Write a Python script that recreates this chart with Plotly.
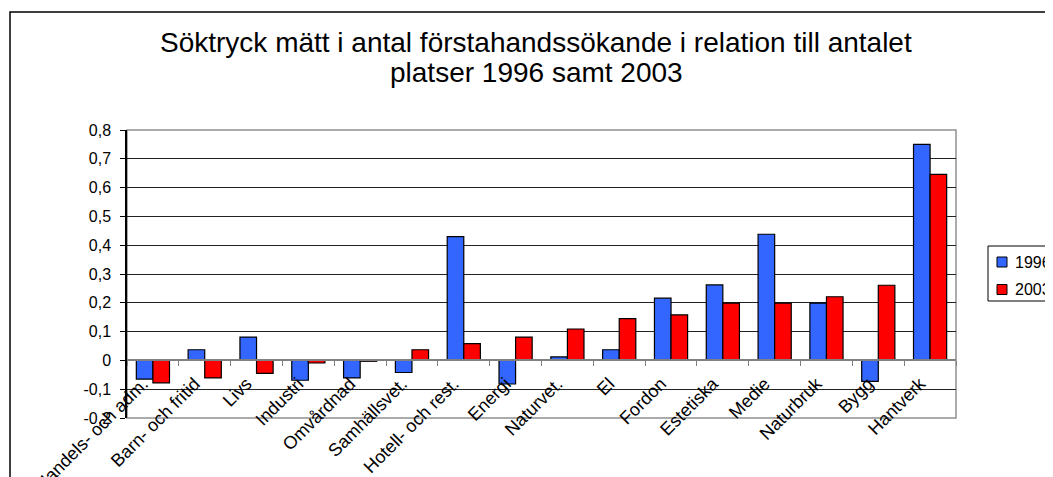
import plotly.graph_objects as go

# program areas (x categories)
kategorier = ['Handels- och adm.', 'Barn- och fritid', 'Livs', 'Industri', 'Omvårdnad',
	'Samhällsvet.', 'Hotell- och rest.', 'Energi', 'Naturvet.', 'El', 'Fordon',
	'Estetiska', 'Medie', 'Naturbruk', 'Bygg', 'Hantverk']

# values
v1996 = [-0.065, 0.037, 0.081, -0.069, -0.061, -0.042, 0.43, -0.082, 0.012, 0.037,
	0.216, 0.262, 0.438, 0.199, -0.073, 0.75]
v2003 = [-0.078, -0.061, -0.045, -0.009, -0.003, 0.037, 0.058, 0.081, 0.109, 0.145,
	0.158, 0.199, 0.199, 0.221, 0.261, 0.646]

ytick_v = [-0.2, -0.1, 0, 0.1, 0.2, 0.3, 0.4, 0.5, 0.6, 0.7, 0.8]
ytick_t = ['-0,2', '-0,1', '0', '0,1', '0,2', '0,3', '0,4', '0,5', '0,6', '0,7', '0,8']

serier = ['1996', '2003']
farger = ['#3366FF', '#FF0000']

# page is 1053x477 but the html body has an 8px margin
O = 8
W, H = 1053 - O, 477 - O
# plot area, page pixels
L, R, T, B = 127, 956, 130, 418

def px(x):
	return (x - L) / (R - L)

def py(y):
	return (B - y) / (B - T)

fig = go.Figure()
for namn, v, f in zip(serier, [v1996, v2003], farger):
	fig.add_trace(go.Bar(name=namn, x=kategorier, y=v,
		marker=dict(color=f, line=dict(color='black', width=1.2))))

ymin, ymax = -0.2, 0.8

fig.update_layout(
	width=W, height=H,
	margin=dict(l=L - O, r=W - (R - O), t=T - O, b=H - (B - O), autoexpand=False),
	paper_bgcolor='white', plot_bgcolor='white',
	font=dict(family='Arial, Liberation Sans, sans-serif', size=15, color='black'),
	barmode='group', bargap=0.36, bargroupgap=0,
	showlegend=False,
	xaxis=dict(type='category', anchor='free', position=(0 - ymin) / (ymax - ymin),
		showline=True, linecolor='#808080', linewidth=1.5,
		ticks='outside', ticklen=5, tickcolor='#808080', tickson='boundaries',
		tickangle=-45, tickfont=dict(size=18), ticklabelshift=-10, ticklabelstandoff=5,
		showgrid=False),
	yaxis=dict(range=[ymin, ymax], tickvals=ytick_v, ticktext=ytick_t,
		showline=True, linecolor='black', linewidth=1.5,
		ticks='outside', ticklen=5, tickcolor='black', ticklabelstandoff=6,
		showgrid=True, gridcolor='#222222', gridwidth=1,
		zeroline=False, tickfont=dict(size=16)),
)

# title, two centred lines
for rad, yc in [('Söktryck mätt i antal förstahandssökande i relation till antalet', 42),
		('platser 1996 samt 2003', 72)]:
	fig.add_annotation(text=rad, xref='paper', yref='paper', x=px(536), y=py(yc),
		xanchor='center', yanchor='middle', showarrow=False,
		font=dict(size=28, color='black'))

# plot area border
fig.add_shape(type='rect', xref='paper', yref='paper', x0=0, y0=0, x1=1, y1=1,
	line=dict(color='#909090', width=1.5), layer='below')

# outer chart frame (runs off the right and bottom edges)
fig.add_shape(type='rect', xref='paper', yref='paper',
	x0=px(10), y0=py(H + 40), x1=px(W + 40), y1=py(12),
	line=dict(color='black', width=1.5))

# legend box, drawn by hand so it sits where the original one is
fig.add_shape(type='rect', xref='paper', yref='paper',
	x0=px(988), y0=py(301), x1=px(1120), y1=py(246),
	line=dict(color='black', width=1), fillcolor='white')
for i, (namn, f) in enumerate(zip(serier, farger)):
	yc = 262 + i * 27.5
	fig.add_shape(type='rect', xref='paper', yref='paper',
		x0=px(997), y0=py(yc + 5), x1=px(1007), y1=py(yc - 5),
		line=dict(color='black', width=1), fillcolor=f)
	fig.add_annotation(text=namn, xref='paper', yref='paper', x=px(1013), y=py(yc),
		xanchor='left', yanchor='middle', showarrow=False,
		font=dict(size=16, color='black'))

# bit of a heading cut off above the frame
fig.add_annotation(text='<b>p</b>', xref='paper', yref='paper', x=px(57), y=py(9),
	xanchor='center', yanchor='bottom', showarrow=False,
	font=dict(family='Liberation Serif', size=22, color='black'))

fig.write_html("out.html")
